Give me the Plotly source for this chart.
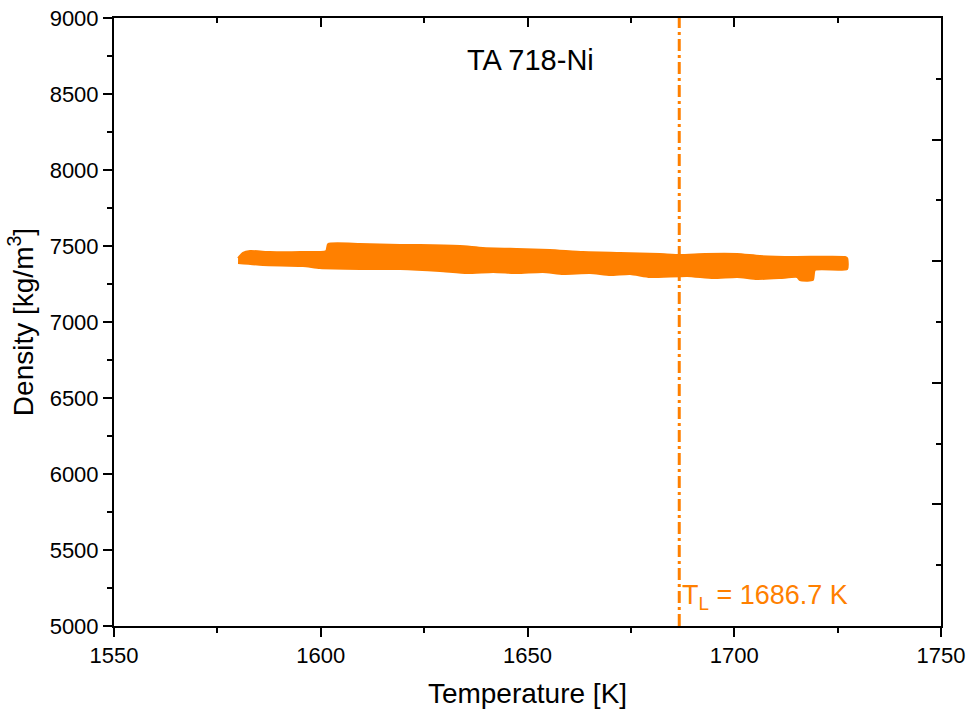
import plotly.graph_objects as go

# Density band of TA 718-Ni vs temperature (upper and lower envelope of the measured points)
upper_T = [1580.0, 1581.2, 1582.9, 1587.7, 1595.0, 1601.3, 1601.8, 1609.5, 1619.2,
           1624.0, 1633.7, 1639.2, 1647.5, 1655.4, 1663.4, 1672.4, 1682.0, 1686.9,
           1692.9, 1700.7, 1706.2, 1714.7, 1726.8, 1727.3]
upper_rho = [7420, 7455, 7467, 7460, 7460, 7467, 7513, 7513, 7507,
             7507, 7500, 7487, 7480, 7474, 7460, 7454, 7447, 7441,
             7447, 7447, 7434, 7428, 7428, 7420]
lower_T = [1727.3, 1719.5, 1719.0, 1715.9, 1715.2, 1711.1, 1705.5, 1700.7, 1694.9,
           1688.6, 1679.6, 1674.8, 1670.0, 1665.1, 1658.6, 1653.7, 1647.5, 1641.7,
           1635.4, 1628.8, 1619.2, 1609.5, 1599.8, 1595.7, 1586.0, 1580.0]
lower_rho = [7349, 7342, 7276, 7276, 7296, 7289, 7283, 7296, 7289,
             7303, 7296, 7316, 7309, 7322, 7316, 7329, 7322, 7329,
             7322, 7336, 7349, 7349, 7355, 7368, 7375, 7388]

T_liquidus = 1686.7
x_range = [1550, 1750]
y_range = [5000, 9000]
x_ticks = [1550, 1600, 1650, 1700, 1750]
y_ticks = [5000, 5500, 6000, 6500, 7000, 7500, 8000, 8500, 9000]

ORANGE = "#FF8000"
FONT = "Arial, Liberation Sans, sans-serif"

fig = go.Figure()

fig.add_trace(go.Scatter(
    x=upper_T + lower_T,
    y=upper_rho + lower_rho,
    mode="lines",
    fill="toself",
    fillcolor=ORANGE,
    line=dict(color=ORANGE, width=2, shape="spline", smoothing=0.5),
    hoverinfo="skip",
    showlegend=False,
))

# Liquidus temperature marker
fig.add_trace(go.Scatter(
    x=[T_liquidus, T_liquidus],
    y=y_range,
    mode="lines",
    line=dict(color=ORANGE, width=3, dash="12px,4px,3px,4px"),
    hoverinfo="skip",
    showlegend=False,
))

# Helper trace so the top/right tick-only axes get drawn
fig.add_trace(go.Scatter(x=[None], y=[None], xaxis="x2", yaxis="y2",
                         showlegend=False, hoverinfo="skip"))

axis_common = dict(showgrid=False, zeroline=False, showline=True,
                   linecolor="black", linewidth=2, automargin=False)

fig.update_layout(
    width=967, height=713,
    margin=dict(l=114, r=26, t=18, b=87),
    paper_bgcolor="white", plot_bgcolor="white",
    font=dict(family=FONT, color="black"),
    showlegend=False,
    xaxis=dict(
        range=x_range, tickvals=x_ticks, ticks="outside", ticklen=9,
        tickwidth=2, tickcolor="black",
        minor=dict(dtick=25, ticks="outside", ticklen=5, tickwidth=2, tickcolor="black"),
        tickfont=dict(size=22, family=FONT),
        title=dict(text="Temperature [K]", font=dict(size=28, family=FONT), standoff=16),
        **axis_common,
    ),
    yaxis=dict(
        range=y_range, tickvals=y_ticks, ticks="outside", ticklen=9,
        tickwidth=2, tickcolor="black",
        minor=dict(dtick=250, ticks="outside", ticklen=5, tickwidth=2, tickcolor="black"),
        tickfont=dict(size=22, family=FONT),
        title=dict(text="Density [kg/m<sup>3</sup>]", font=dict(size=28, family=FONT), standoff=8),
        **axis_common,
    ),
    xaxis2=dict(
        overlaying="x", side="top", anchor="y", range=x_range, dtick=50,
        tick0=1550, ticks="inside", ticklen=9, tickwidth=2, tickcolor="black",
        minor=dict(dtick=25, ticks="inside", ticklen=5, tickwidth=2, tickcolor="black"),
        showticklabels=False, **axis_common,
    ),
    yaxis2=dict(
        overlaying="y", side="right", anchor="x", range=[0, 5], dtick=1,
        tick0=0, ticks="inside", ticklen=9, tickwidth=2, tickcolor="black",
        minor=dict(dtick=0.5, ticks="inside", ticklen=5, tickwidth=2, tickcolor="black"),
        showticklabels=False, **axis_common,
    ),
    annotations=[
        dict(x=1650.8, y=8724, xref="x", yref="y", text="TA 718-Ni",
             showarrow=False, font=dict(size=29, family=FONT, color="black")),
        dict(x=T_liquidus + 0.3, y=5191, xref="x", yref="y", xanchor="left",
             text="T<sub>L</sub> = %.1f K" % T_liquidus,
             showarrow=False, font=dict(size=27, family=FONT, color=ORANGE)),
    ],
)

fig.write_html("out.html")
